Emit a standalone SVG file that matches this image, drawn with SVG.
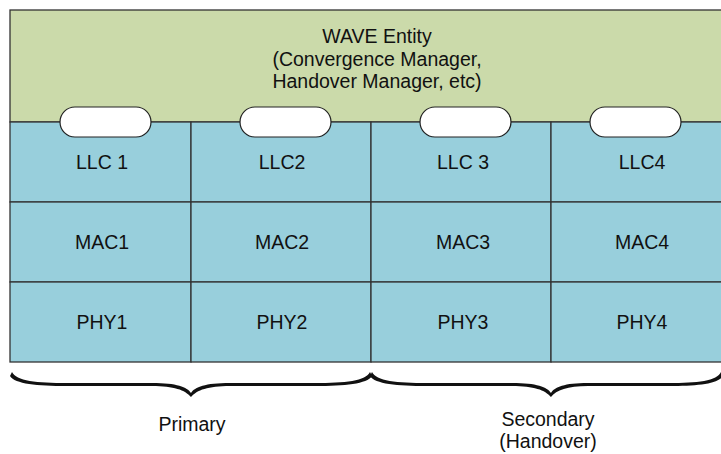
<svg xmlns="http://www.w3.org/2000/svg" width="721" height="454" viewBox="0 0 721 454">
  <style>
    .lbl { font-family: "Liberation Sans", Arial, sans-serif; font-size: 19.5px; fill: #111; text-anchor: middle; }
    .cell { fill: #98CFDC; stroke: #333; stroke-width: 1.3; }
    .entity { fill: #CBDAAA; stroke: #333; stroke-width: 1.3; }
    .sap { fill: #fff; stroke: #222; stroke-width: 1.2; }
    .brace { fill: #111; stroke: none; }
  </style>
  <defs>
    <!-- one half of a curly brace: thick end at the origin, tip at (179,24) -->
    <path id="half-brace" d="M0,-1 C4,8 25,10 55,10 L140,10 C165,10 175,14 179,20 L179,24 C173,17 162,13 140,13 L55,13 C25,13 3,11 -2,3 Z"/>
  </defs>

  <g id="wave-entity">
    <rect class="entity" x="10" y="10" width="720" height="112"/>
    <text class="lbl" x="377" y="43">WAVE Entity</text>
    <text class="lbl" x="377" y="65.5">(Convergence Manager,</text>
    <text class="lbl" x="377" y="88">Handover Manager, etc)</text>
  </g>

  <g id="stack-1">
    <rect class="cell" x="10" y="122" width="181" height="80"/>
    <rect class="cell" x="10" y="202" width="181" height="80"/>
    <rect class="cell" x="10" y="282" width="181" height="80"/>
    <text class="lbl" x="102" y="169">LLC 1</text>
    <text class="lbl" x="102" y="249">MAC1</text>
    <text class="lbl" x="102" y="329">PHY1</text>
  </g>

  <g id="stack-2">
    <rect class="cell" x="191" y="122" width="180" height="80"/>
    <rect class="cell" x="191" y="202" width="180" height="80"/>
    <rect class="cell" x="191" y="282" width="180" height="80"/>
    <text class="lbl" x="282" y="169">LLC2</text>
    <text class="lbl" x="282" y="249">MAC2</text>
    <text class="lbl" x="282" y="329">PHY2</text>
  </g>

  <g id="stack-3">
    <rect class="cell" x="371" y="122" width="180" height="80"/>
    <rect class="cell" x="371" y="202" width="180" height="80"/>
    <rect class="cell" x="371" y="282" width="180" height="80"/>
    <text class="lbl" x="463" y="169">LLC 3</text>
    <text class="lbl" x="463" y="249">MAC3</text>
    <text class="lbl" x="463" y="329">PHY3</text>
  </g>

  <g id="stack-4">
    <rect class="cell" x="551" y="122" width="180" height="80"/>
    <rect class="cell" x="551" y="202" width="180" height="80"/>
    <rect class="cell" x="551" y="282" width="180" height="80"/>
    <text class="lbl" x="642" y="169">LLC4</text>
    <text class="lbl" x="642" y="249">MAC4</text>
    <text class="lbl" x="642" y="329">PHY4</text>
  </g>

  <!-- service access points between the entity and each LLC -->
  <g id="sap-1"><rect class="sap" x="60" y="107" width="91" height="30" rx="15"/></g>
  <g id="sap-2"><rect class="sap" x="240" y="107" width="91" height="30" rx="15"/></g>
  <g id="sap-3"><rect class="sap" x="420" y="107" width="91" height="30" rx="15"/></g>
  <g id="sap-4"><rect class="sap" x="590" y="107" width="91" height="30" rx="15"/></g>

  <g id="connectors">
    <use href="#half-brace" class="brace" transform="translate(12,373)"/>
    <use href="#half-brace" class="brace" transform="translate(370,373) scale(-1,1)"/>
    <use href="#half-brace" class="brace" transform="translate(372,373)"/>
    <use href="#half-brace" class="brace" transform="translate(721,373) scale(-0.95,1)"/>
  </g>

  <g id="group-labels">
    <text class="lbl" x="192" y="431">Primary</text>
    <text class="lbl" x="548" y="426">Secondary</text>
    <text class="lbl" x="548" y="448">(Handover)</text>
  </g>
</svg>
